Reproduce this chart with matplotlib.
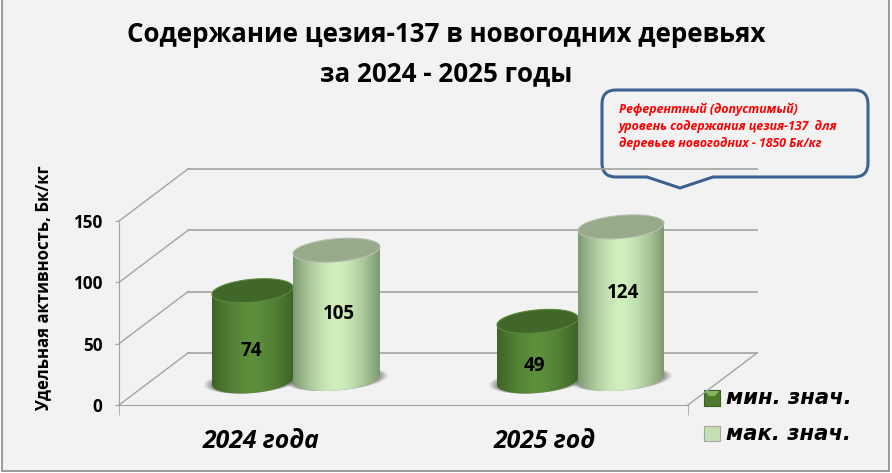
import matplotlib
matplotlib.use("Agg")
import matplotlib.pyplot as plt
import numpy as np
from matplotlib.patches import PathPatch, Polygon, Rectangle
from matplotlib.path import Path

years = ["2024 года", "2025 год"]
min_values = [74, 49]
max_values = [105, 124]
y_ticks = [0, 50, 100, 150]
legend_labels = ["мин. знач.", "мак. знач."]
title_lines = ["Содержание цезия-137 в новогодних деревьях", "за 2024 - 2025 годы"]
note_lines = ["Референтный (допустимый)",
              "уровень содержания цезия-137  для",
              "деревьев новогодних - 1850 Бк/кг"]

W, H = 892, 473
X0, X1 = 119, 688      # front edge of floor, pixels
Y0 = 405               # pixel row of value 0
PX = 184 / 150         # pixels per unit
DX, DY = 69, 52        # 3d depth offset
GRID = "#a3a3a3"
FONT = "Open Sans"

plt.rcParams["font.family"] = [FONT, "DejaVu Sans"]

fig = plt.figure(figsize=(W / 100, H / 100), dpi=100, facecolor="white")

# pixel coordinate layer for frame, walls, title, legend and callout
bg = fig.add_axes([0, 0, 1, 1])
bg.set_xlim(0, W)
bg.set_ylim(H, 0)
bg.axis("off")
bg.add_patch(Rectangle((2, -3), 887, 474, facecolor="#f2f2f2", edgecolor="#8a8a8a", linewidth=1.2))

for v in y_ticks:
    y = Y0 - v * PX
    bg.plot([X0, X0 + DX], [y, y - DY], color=GRID, lw=1)
    bg.plot([X0 + DX, X1 + DX], [y - DY, y - DY], color=GRID, lw=1.2)
bg.plot([X1, X1 + DX], [Y0, Y0 - DY], color=GRID, lw=1)

for i, line in enumerate(title_lines):
    bg.text(446, 35 + i * 39, line, ha="center", va="center", fontsize=18.7, fontweight="bold", color="black")

# callout
x_l, x_r, y_t, y_b, r = 602, 868, 90, 177, 14
verts = [(x_l + r, y_t), (x_r - r, y_t), (x_r, y_t), (x_r, y_t + r), (x_r, y_b - r), (x_r, y_b), (x_r - r, y_b),
         (713, y_b), (680, 188), (647, y_b), (x_l + r, y_b), (x_l, y_b), (x_l, y_b - r), (x_l, y_t + r),
         (x_l, y_t), (x_l + r, y_t)]
codes = [Path.MOVETO, Path.LINETO, Path.CURVE3, Path.CURVE3, Path.LINETO, Path.CURVE3, Path.CURVE3,
         Path.LINETO, Path.LINETO, Path.LINETO, Path.LINETO, Path.CURVE3, Path.CURVE3, Path.LINETO,
         Path.CURVE3, Path.CURVE3]
bg.add_patch(PathPatch(Path(verts, codes), facecolor="none", edgecolor="#3c6291", linewidth=2.2))
for i, line in enumerate(note_lines):
    bg.text(619, 109 + i * 17, line, ha="left", va="center", fontsize=8.8, fontweight="bold",
            style="italic", color="#ff0000")

# legend
bg.add_patch(Rectangle((704, 390), 16, 16, facecolor="#4b7a2e", edgecolor="#3a5f22", linewidth=0.8))
bg.add_patch(Polygon([(705, 391), (719, 391), (715, 396), (709, 396)], facecolor="#86b562", edgecolor="none"))
bg.add_patch(Rectangle((704, 426), 16, 15, facecolor="#c6e0b4", edgecolor="#a6a6a6", linewidth=0.8))
for y, label in zip([398, 434], legend_labels):
    bg.text(726, y, label, ha="left", va="center", fontsize=15.2, fontweight="bold", style="italic",
            color="black", family="DejaVu Sans")

bg.text(43, 288, "Удельная активность, Бк/кг", rotation=90, ha="center", va="center",
        fontsize=12.1, fontweight="bold")

# value layer, floor front edge to a bit above the top tick
top_value = 190
ax = fig.add_axes([X0 / W, (H - Y0) / H, (X1 - X0) / W, top_value * PX / H])
ax.patch.set_visible(False)
ax.set_xlim(X0, X1)
ax.set_ylim(0, top_value)
for side in ["top", "right"]:
    ax.spines[side].set_visible(False)
for side in ["left", "bottom"]:
    ax.spines[side].set_color(GRID)
ax.spines["left"].set_bounds(0, 150)
ax.set_yticks(y_ticks)
ax.tick_params(axis="y", length=3, color=GRID, labelsize=12.3, pad=9)
for t in ax.get_yticklabels():
    t.set_fontweight("bold")
ax.set_xticks([261, 545])
ax.set_xticklabels(years, fontsize=17.8, fontweight="bold", style="italic")
ax.tick_params(axis="x", length=0, pad=17)
ax.set_xticks([X0, X1], minor=True)
ax.tick_params(axis="x", which="minor", length=7, color=GRID)


def ellipse(cx, cy, a, t):
    # tilted ellipse of a 3d cylinder end; cy in value units
    b, skew = 11.5, 3.5
    return cx + a * np.cos(t), cy + (b * np.sin(t) + skew * np.cos(t)) / PX


def cylinder(x_a, x_b, base_px, value, edge, mid, cap, rim):
    cx, a = (x_a + x_b) / 2, (x_b - x_a) / 2
    base = (Y0 - base_px) / PX
    top = base + value
    # soft shadow on the floor
    for grow, alpha in zip([8, 6, 4, 2], [0.10, 0.14, 0.18, 0.22]):
        sx, sy = ellipse(cx, base, a + grow, np.linspace(0, 2 * np.pi, 80))
        ax.fill(sx, sy, color="#555555", alpha=alpha, lw=0, zorder=2)
    xb, yb = ellipse(cx, base, a, np.linspace(np.pi, 2 * np.pi, 60))
    xt, yt = ellipse(cx, top, a, np.linspace(0, np.pi, 60))
    body = Polygon(np.column_stack([np.r_[xb, xt], np.r_[yb, yt]]), transform=ax.transData,
                   facecolor="none", edgecolor="none")
    ax.add_patch(body)
    ramp = np.abs(np.linspace(-1, 1, 120)) ** 1.6
    c_edge, c_mid = np.array(matplotlib.colors.to_rgb(edge)), np.array(matplotlib.colors.to_rgb(mid))
    img = (c_mid[None, :] * (1 - ramp[:, None]) + c_edge[None, :] * ramp[:, None])[None, :, :]
    im = ax.imshow(img, extent=[x_a, x_b, base - 20, top + 20], aspect="auto", zorder=3, interpolation="bilinear")
    im.set_clip_path(body)
    xc, yc = ellipse(cx, top, a, np.linspace(0, 2 * np.pi, 120))
    ax.fill(xc, yc, facecolor=cap, edgecolor=rim, lw=0.8, zorder=4)


centers = [(212, 293, 381.5), (497, 578, 381.5)]
for (xa, xb, bp), v in zip(centers, min_values):
    cylinder(xa, xb, bp, v, "#3d6325", "#5d8f3c", "#41662a", "#5d8a3e")
lights = [(293, 380, 379), (578, 664, 379)]
for (xa, xb, bp), v in zip(lights, max_values):
    cylinder(xa, xb, bp, v, "#7f9a72", "#d0efbd", "#98aa8a", "#b5bfae")
ax.set_xlim(X0, X1)
ax.set_ylim(0, top_value)

# data labels sit a little off the cylinder middle in the source
label_rows = [351, 314, 366, 293]
label_cols = [251, 339, 534, 623]
label_vals = [min_values[0], max_values[0], min_values[1], max_values[1]]
for col, row, v in zip(label_cols, label_rows, label_vals):
    ax.text(col, (Y0 - row) / PX, str(v), ha="center", va="center", fontsize=13.5, fontweight="bold", zorder=6)

fig.savefig("out.png", dpi=100)
